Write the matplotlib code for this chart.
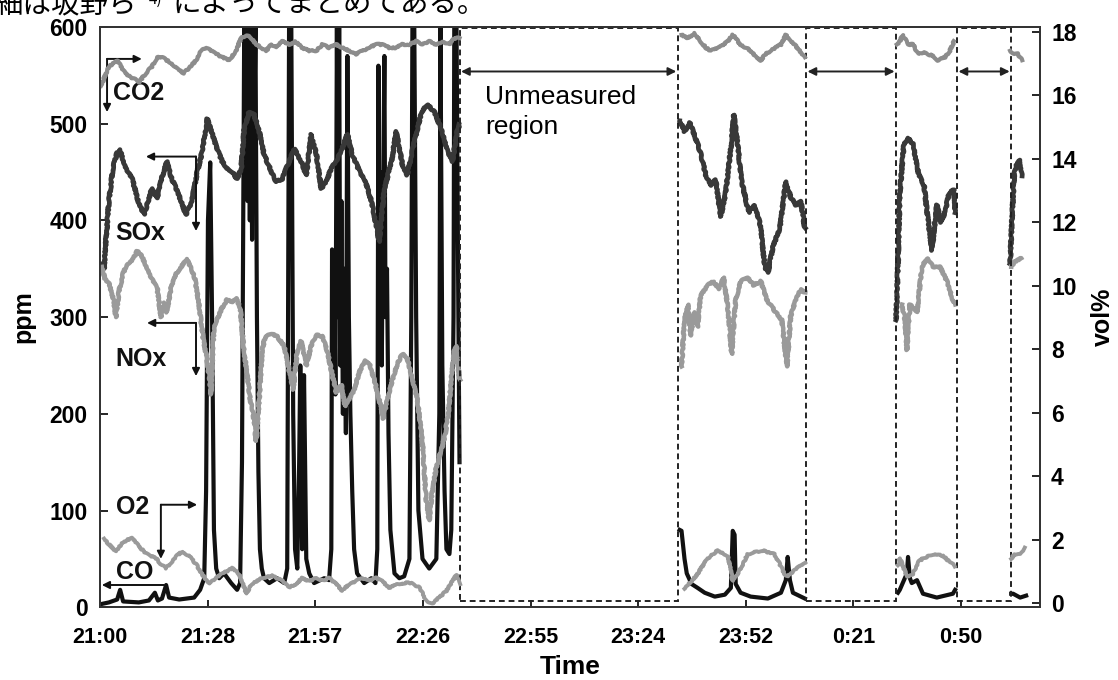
import numpy as np
import matplotlib
matplotlib.use('Agg')
import matplotlib.pyplot as plt
from matplotlib.patches import Rectangle

plt.rcParams['font.family'] = ['Liberation Sans', 'DejaVu Sans']

# minutes after 21:00, tick every 0.02 day (28.8 min)
tick_pos = [0, 28.8, 57.6, 86.4, 115.2, 144.0, 172.8, 201.6, 230.4]
tick_labels = ['21:00', '21:28', '21:57', '22:26', '22:55', '23:24', '23:52', '0:21', '0:50']

# unmeasured intervals (minutes)
gaps = [(96.2, 154.6), (188.9, 213.0), (229.3, 243.8)]

# ---- CO (ppm, black) ----
co_t1 = [0.0, 2.4, 4.6, 5.4, 6.2, 10.4, 13.1, 14.7, 15.5, 16.6, 17.7, 18.5, 21.2, 25.2, 26.8,
         27.9, 28.4, 28.9, 29.5, 30.0, 30.5, 31.1, 31.9, 33.2, 35.1, 36.7, 37.5, 38.0,
         38.6, 38.9, 39.2, 39.5, 39.8, 40.1, 40.4, 40.7, 41.0, 41.3, 41.6, 42.0, 42.4,
         42.8, 43.3, 43.9, 45.3, 47.4, 49.3, 50.1, 50.6,
         51.2, 51.7, 52.2, 52.8, 53.3, 53.6, 54.1, 54.6, 55.2, 56.0, 57.3, 60.0, 61.3, 61.9,
         62.1, 62.4, 62.7, 63.0, 63.4, 63.7, 64.0, 64.3, 64.6, 65.0, 65.4, 65.8, 66.2, 66.6,
         67.0, 67.5, 68.0, 68.8, 70.7,
         72.6, 73.7, 74.2, 74.5, 74.8, 75.1, 75.4, 75.7, 76.1, 76.4, 76.8, 77.2, 77.7, 78.8,
         80.1, 81.4, 82.8,
         83.3, 83.6, 84.1, 84.6, 85.2, 86.3, 88.1, 90.0, 90.8, 91.1, 91.6, 92.2, 92.7, 93.5,
         94.0, 94.6, 94.8, 95.4, 95.9, 96.2]
co_v1 = [3, 5, 8, 18, 6, 5, 7, 15, 7, 9, 23, 10, 8, 10, 18,
         30, 120, 400, 460, 300, 80, 40, 30, 35, 25, 18, 25, 150,
         600, 450, 600, 420, 600, 400, 600, 380, 600, 500, 600, 300, 140,
         60, 40, 30, 25, 30, 25, 40, 600,
         600, 200, 60, 40, 150, 250, 60, 240, 50, 35, 25, 30, 28, 60,
         370, 250, 330, 220, 600, 300, 600, 250, 420, 200, 350, 180, 570, 300,
         200, 120, 60, 35, 25,
         30, 25, 60, 560, 300, 450, 250, 400, 570, 300, 350, 180, 80, 35,
         30, 32, 50,
         300, 600, 600, 300, 100, 50, 40, 50, 200, 600, 250, 120, 60, 55,
         80, 300, 600, 600, 300, 150]
co_t2 = [155.1, 155.6, 156.4, 157.0, 158.3, 159.9, 161.8, 164.5, 167.2, 168.8, 169.3, 169.8,
         170.1, 171.4, 174.1, 178.7, 182.2, 183.5, 184.0, 184.6, 185.4, 187.5, 188.6]
co_v2 = [80, 79, 50, 35, 24, 20, 15, 11, 13, 20, 79, 75, 24, 15, 11, 9, 15, 28, 52, 28, 15, 11, 9]
co_t3 = [213.5, 214.0, 215.1, 215.9, 216.2, 216.7, 217.2, 218.6, 220.2, 223.9, 228.2, 228.8]
co_v3 = [15, 18, 28, 35, 52, 30, 25, 28, 14, 10, 14, 18]
co_t4 = [243.8, 244.3, 246.2, 247.8]
co_v4 = [14, 14, 10, 12]

# ---- SOx (ppm, dark grey) ----
sox_t1 = [0.5, 1.1, 1.6, 2.4, 3.5, 4.6, 5.4, 6.7, 8.6, 10.2, 11.8, 12.9, 13.9, 15.3, 16.6,
          17.9, 19.0, 20.4, 21.7, 23.0, 24.6, 26.0, 27.3, 28.7, 30.0, 31.3, 32.7, 34.0, 35.4,
          36.7, 37.8, 38.6, 39.9, 41.3, 42.6, 43.9, 45.8, 47.1, 48.8, 50.6, 52.0, 53.8, 55.2,
          56.5, 57.9, 59.2, 60.5, 61.9, 63.2, 64.8, 66.2, 67.5, 69.4, 71.3, 72.6, 73.9, 74.7,
          76.1, 78.0, 79.3, 80.9, 82.2, 84.1, 86.0, 87.6, 89.5, 91.3, 93.0, 94.3, 95.6, 96.2]
sox_v1 = [355, 350, 380, 420, 455, 470, 473, 455, 443, 420, 406, 420, 433, 423, 445,
          461, 445, 433, 420, 406, 420, 450, 470, 505, 490, 474, 461, 454, 450,
          443, 454, 495, 512, 509, 492, 468, 451, 440, 443, 461, 474, 461, 447,
          489, 468, 433, 440, 454, 461, 474, 489, 468, 451, 437, 420, 395, 378,
          433, 461, 492, 458, 447, 481, 512, 520, 512, 495, 471, 461, 492, 499]
sox_t2 = [155.1, 156.4, 157.8, 159.1, 160.5, 162.1, 163.4, 164.7, 166.1, 167.4, 168.8, 169.6,
          170.6, 171.7, 173.6, 174.9, 176.5, 177.9, 178.7, 180.0, 181.9, 183.5, 184.8, 186.2,
          187.5, 188.6]
sox_v2 = [503, 492, 501, 488, 472, 447, 436, 442, 404, 428, 475, 509,
          479, 440, 408, 416, 400, 352, 346, 372, 392, 440, 424, 416, 420, 392]
sox_t3 = [213.0, 213.5, 214.0, 215.1, 216.2, 217.5, 219.1, 220.5, 221.3, 222.6, 223.9, 225.0,
          225.8, 227.2, 228.5, 228.8]
sox_v3 = [297, 353, 428, 479, 485, 479, 447, 436, 408, 369, 416, 398, 404, 428, 432, 408]
sox_t4 = [243.5, 244.0, 244.6, 245.4, 246.2, 246.7]
sox_v4 = [355, 400, 447, 460, 462, 446]

# ---- NOx (ppm, light grey) ----
nox_t1 = [0.5, 1.3, 2.4, 3.5, 4.3, 5.1, 6.2, 7.2, 8.6, 9.9, 11.0, 12.1, 13.1, 14.5, 15.3,
          16.3, 17.1, 17.9, 19.0, 20.4, 21.7, 23.3, 24.4, 25.4, 26.5, 27.6, 28.4, 29.2, 29.7,
          30.5, 31.6, 32.7, 34.0, 35.4, 36.4, 37.5, 38.6, 39.4, 40.2, 41.0, 41.8, 42.6, 43.4,
          44.2, 45.8, 47.4, 49.3, 50.6, 51.7, 52.8, 53.8, 55.2, 56.5, 57.9, 59.5, 60.8, 61.9,
          63.2, 64.6, 65.6, 66.7, 68.0, 69.6, 71.0, 72.3, 73.4, 74.7, 75.8, 76.9, 78.2, 79.6,
          80.9, 82.2, 83.6, 84.9, 86.3, 87.3, 88.1, 88.9, 90.0, 91.1, 92.2, 93.2, 94.0, 94.8,
          95.4, 96.2]
nox_v1 = [352, 340, 335, 320, 300, 327, 345, 355, 358, 368, 365, 355, 345, 335, 330,
          300, 315, 305, 330, 345, 352, 360, 350, 340, 313, 278, 262, 240, 220,
          290, 300, 310, 318, 315, 320, 310, 262, 240, 215, 200, 172, 215, 265,
          280, 283, 280, 270, 245, 225, 265, 275, 250, 270, 282, 280, 265, 245,
          222, 230, 208, 215, 225, 245, 255, 250, 235, 215, 195, 215, 235, 252,
          262, 258, 235, 215, 170, 110, 90, 120, 145, 160, 175, 200, 235, 265,
          270, 235]
nox_t2 = [155.6, 156.4, 157.3, 158.0, 159.1, 159.9, 160.7, 162.6, 164.2, 165.6, 166.9, 168.0,
          169.0, 170.1, 171.4, 173.3, 174.9, 176.8, 178.4, 180.8, 182.4, 183.8, 184.8, 186.2,
          187.5, 188.6]
nox_v2 = [249, 297, 313, 281, 305, 290, 322, 333, 337, 329, 341, 309,
          262, 318, 337, 341, 333, 337, 318, 305, 297, 249, 301, 318, 329, 325]
nox_t3 = [214.6, 215.4, 215.9, 216.7, 218.6, 219.9, 221.3, 222.9, 224.8, 226.6, 228.2, 228.8]
nox_v3 = [313, 297, 266, 313, 305, 352, 361, 352, 352, 337, 318, 313]
nox_t4 = [243.8, 244.6, 246.5]
nox_v4 = [352, 357, 361]

# ---- CO2 (vol%, grey) ----
co2_t1 = [0.3, 1.3, 2.4, 3.5, 4.6, 6.2, 7.8, 9.4, 10.4, 12.3, 13.9, 15.3, 16.6, 17.9, 19.3,
          20.9, 22.5, 24.1, 25.7, 27.1, 28.4, 29.7, 31.1, 32.7, 34.6, 36.4, 37.8, 39.1, 40.5,
          41.8, 43.1, 44.5, 45.8, 47.1, 48.8, 50.6, 52.2, 54.1, 56.0, 57.9, 59.5, 61.3, 63.2,
          64.8, 66.7, 68.6, 70.2, 72.1, 73.7, 75.5, 77.4, 79.3, 80.9, 82.8, 84.6, 86.3, 88.1,
          90.0, 91.6, 93.5, 94.8, 96.2]
co2_v1 = [16.3, 16.6, 16.9, 17.0, 17.1, 16.8, 16.6, 16.5, 16.4, 16.7, 16.9, 17.2, 17.2, 17.1, 17.0,
          16.8, 16.7, 16.9, 17.1, 17.4, 17.5, 17.4, 17.3, 17.2, 17.1, 17.4, 17.8, 17.9, 17.8,
          17.6, 17.5, 17.4, 17.6, 17.5, 17.7, 17.6, 17.7, 17.5, 17.4, 17.4, 17.6, 17.5, 17.6,
          17.5, 17.4, 17.3, 17.4, 17.5, 17.6, 17.6, 17.5, 17.5, 17.6, 17.6, 17.7, 17.6, 17.7,
          17.6, 17.7, 17.6, 17.8, 17.8]
co2_t2 = [155.6, 157.3, 159.1, 160.7, 162.1, 163.4, 165.6, 168.0, 169.3, 171.4, 172.8, 174.1,
          175.5, 176.8, 178.1, 179.5, 180.8, 182.2, 183.5, 184.8, 185.9, 187.2, 188.6]
co2_v2 = [17.9, 17.8, 17.95, 17.7, 17.5, 17.4, 17.5, 17.7, 17.9, 17.6, 17.5, 17.4,
          17.2, 17.1, 17.3, 17.4, 17.5, 17.6, 17.9, 17.7, 17.6, 17.4, 17.2]
co2_t3 = [213.2, 214.0, 214.8, 216.2, 217.5, 218.9, 220.2, 221.3, 222.9, 224.2, 226.1, 227.4, 228.5]
co2_v3 = [17.6, 17.7, 17.9, 17.6, 17.6, 17.3, 17.35, 17.3, 17.25, 17.1, 17.2, 17.4, 17.7]
co2_t4 = [243.5, 244.3, 245.6, 246.7]
co2_v4 = [17.4, 17.3, 17.3, 17.1]

# ---- O2 (vol%, grey) ----
o2_t1 = [1.1, 2.4, 4.3, 5.9, 7.2, 8.6, 9.9, 11.0, 12.6, 15.0, 16.6, 17.7, 19.3, 20.6, 22.0,
         23.8, 25.7, 27.3, 29.2, 31.1, 32.7, 35.4, 37.2, 38.3, 39.1, 40.7, 43.4, 46.1, 48.8,
         50.6, 52.5, 54.1, 56.0, 57.9, 59.5, 61.3, 63.2, 64.8, 66.7, 68.6, 70.2, 72.1, 73.9,
         75.5, 77.4, 80.1, 82.8, 85.5, 87.3, 88.9, 90.8, 92.7, 94.3, 95.4, 96.2]
o2_v1 = [2.04, 1.86, 1.64, 1.89, 2.0, 2.05, 1.9, 1.73, 1.55, 1.42, 1.2, 1.11, 1.33, 1.5, 1.64,
         1.5, 1.24, 0.93, 0.62, 0.8, 0.93, 1.11, 0.93, 0.6, 0.31, 0.62, 0.8, 0.87, 0.71,
         0.5, 0.62, 0.8, 0.7, 0.8, 0.72, 0.8, 0.62, 0.4, 0.62, 0.71, 0.8, 0.72, 0.8,
         0.7, 0.5, 0.62, 0.66, 0.5, 0.09, 0.0, 0.19, 0.4, 0.7, 0.9, 0.6]
o2_t2 = [156.4, 158.3, 159.9, 161.3, 162.6, 165.3, 168.0, 169.3, 170.6, 173.3, 177.1, 180.5,
         183.2, 184.0, 185.9, 188.6]
o2_v2 = [0.46, 0.71, 0.93, 1.2, 1.42, 1.67, 1.5, 0.71, 0.9, 1.55, 1.67, 1.55, 0.93, 0.84, 1.05, 1.3]
o2_t3 = [213.5, 214.0, 215.1, 215.9, 217.5, 218.9, 220.2, 222.9, 225.6, 227.4, 228.8]
o2_v3 = [1.2, 1.42, 1.1, 0.84, 0.93, 1.3, 1.42, 1.55, 1.5, 1.3, 1.18]
o2_t4 = [243.8, 244.6, 246.2, 247.5]
o2_v4 = [1.4, 1.55, 1.58, 1.75]


def joined(*parts):
    # put NaN between measured pieces so the line breaks at the gaps
    ts, vs = [], []
    for t, v in parts:
        ts += list(t) + [np.nan]
        vs += list(v) + [np.nan]
    return np.array(ts), np.array(vs)


fig = plt.figure(figsize=(11.18, 6.8), dpi=100)
ax = fig.add_axes([0.0894, 0.107, 0.8408, 0.8533])
ax2 = ax.twinx()

# light jitter on the grey traces, like the scanned print
sk = (0.7, 3, 10)
t, v = joined((co_t1, co_v1), (co_t2, co_v2), (co_t3, co_v3), (co_t4, co_v4))
ax.plot(t, v, color='#111111', lw=3.0, zorder=2, solid_joinstyle='round')
t, v = joined((sox_t1, sox_v1), (sox_t2, sox_v2), (sox_t3, sox_v3), (sox_t4, sox_v4))
l, = ax.plot(t, v, color='#383838', lw=3.4, zorder=3)
l.set_sketch_params(*sk)
t, v = joined((nox_t1, nox_v1), (nox_t2, nox_v2), (nox_t3, nox_v3), (nox_t4, nox_v4))
l, = ax.plot(t, v, color='#9a9a9a', lw=3.2, zorder=3)
l.set_sketch_params(*sk)
t, v = joined((co2_t1, co2_v1), (co2_t2, co2_v2), (co2_t3, co2_v3), (co2_t4, co2_v4))
l, = ax2.plot(t, v, color='#8c8c8c', lw=3.0)
l.set_sketch_params(*sk)
t, v = joined((o2_t1, o2_v1), (o2_t2, o2_v2), (o2_t3, o2_v3), (o2_t4, o2_v4))
l, = ax2.plot(t, v, color='#9a9a9a', lw=2.8)
l.set_sketch_params(*sk)

ax.set_xlim(0, 251.5)
ax.set_ylim(0, 600)
ax2.set_ylim(-0.12, 18.15)
ax.set_xticks(tick_pos)
ax.set_xticklabels(tick_labels)
ax.set_yticks(range(0, 601, 100))
ax2.set_yticks(range(0, 19, 2))

for a in (ax, ax2):
    for s in a.spines.values():
        s.set_linewidth(1.3)
        s.set_color('#333333')
ax.tick_params(axis='y', direction='in', length=6, width=1.2, pad=9, labelsize=16.5)
ax.tick_params(axis='x', direction='in', length=5, width=1.2, pad=14, labelsize=15.5)
ax2.tick_params(axis='y', direction='in', length=6, width=1.2, pad=8, labelsize=16.5)
for lab in ax.get_xticklabels() + ax.get_yticklabels() + ax2.get_yticklabels():
    lab.set_fontweight('bold')

ax.set_ylabel('ppm', fontsize=18, fontweight='bold', labelpad=10)
ax2.set_ylabel('vol%', fontsize=18, fontweight='bold', labelpad=10)
ax.set_xlabel('Time', fontsize=19, fontweight='bold', labelpad=5)

# unmeasured regions
for g0, g1 in gaps:
    ax.add_patch(Rectangle((g0, 6), g1 - g0, 593, fill=False, edgecolor='#222222',
                           lw=1.4, linestyle=(0, (3, 2)), zorder=4))
    ax.annotate('', xy=(g1 - 0.4, 554), xytext=(g0 + 0.4, 554),
                arrowprops=dict(arrowstyle='<|-|>', color='#222222', lw=1.4,
                                mutation_scale=12, shrinkA=0, shrinkB=0))
ax.text(103.0, 512, 'Unmeasured\nregion', fontsize=19, va='center', ha='left', linespacing=1.3)

# series labels with arrows
def arrow(x0, y0, x1, y1):
    ax.annotate('', xy=(x1, y1), xytext=(x0, y0),
                arrowprops=dict(arrowstyle='-|>', color='#111111', lw=1.4,
                                mutation_scale=11, shrinkA=0, shrinkB=0))

lab = dict(fontsize=18, fontweight='bold', va='center', ha='left', color='#111111')
ax.text(3.6, 532, 'CO2', **lab)
arrow(1.9, 567, 11.2, 567)
arrow(1.9, 567, 1.9, 512)
ax.text(4.2, 387, 'SOx', **lab)
arrow(25.7, 466, 12.3, 466)
arrow(25.7, 466, 25.7, 389)
ax.text(4.2, 257, 'NOx', **lab)
arrow(25.7, 294, 12.6, 294)
arrow(25.7, 294, 25.7, 239)
ax.text(4.4, 104, 'O2', **lab)
arrow(16.3, 106, 26.0, 106)
arrow(16.3, 106, 16.3, 50)
ax.text(4.4, 36, 'CO', **lab)
arrow(17.1, 23, 0.5, 23)

# cut-off line of the page text above the figure
jp = ['Noto Sans CJK JP', 'DejaVu Sans']
fig.text(-0.005, 0.982, '細は坂野ら', fontsize=20.5, family=jp, va='baseline', ha='left')
fig.text(0.133, 0.995, '4)', fontsize=11, family=jp, va='baseline', ha='left')
fig.text(0.154, 0.982, 'によってまとめてある。', fontsize=20.5, family=jp,
         va='baseline', ha='left')

fig.savefig('out.png', dpi=100)
